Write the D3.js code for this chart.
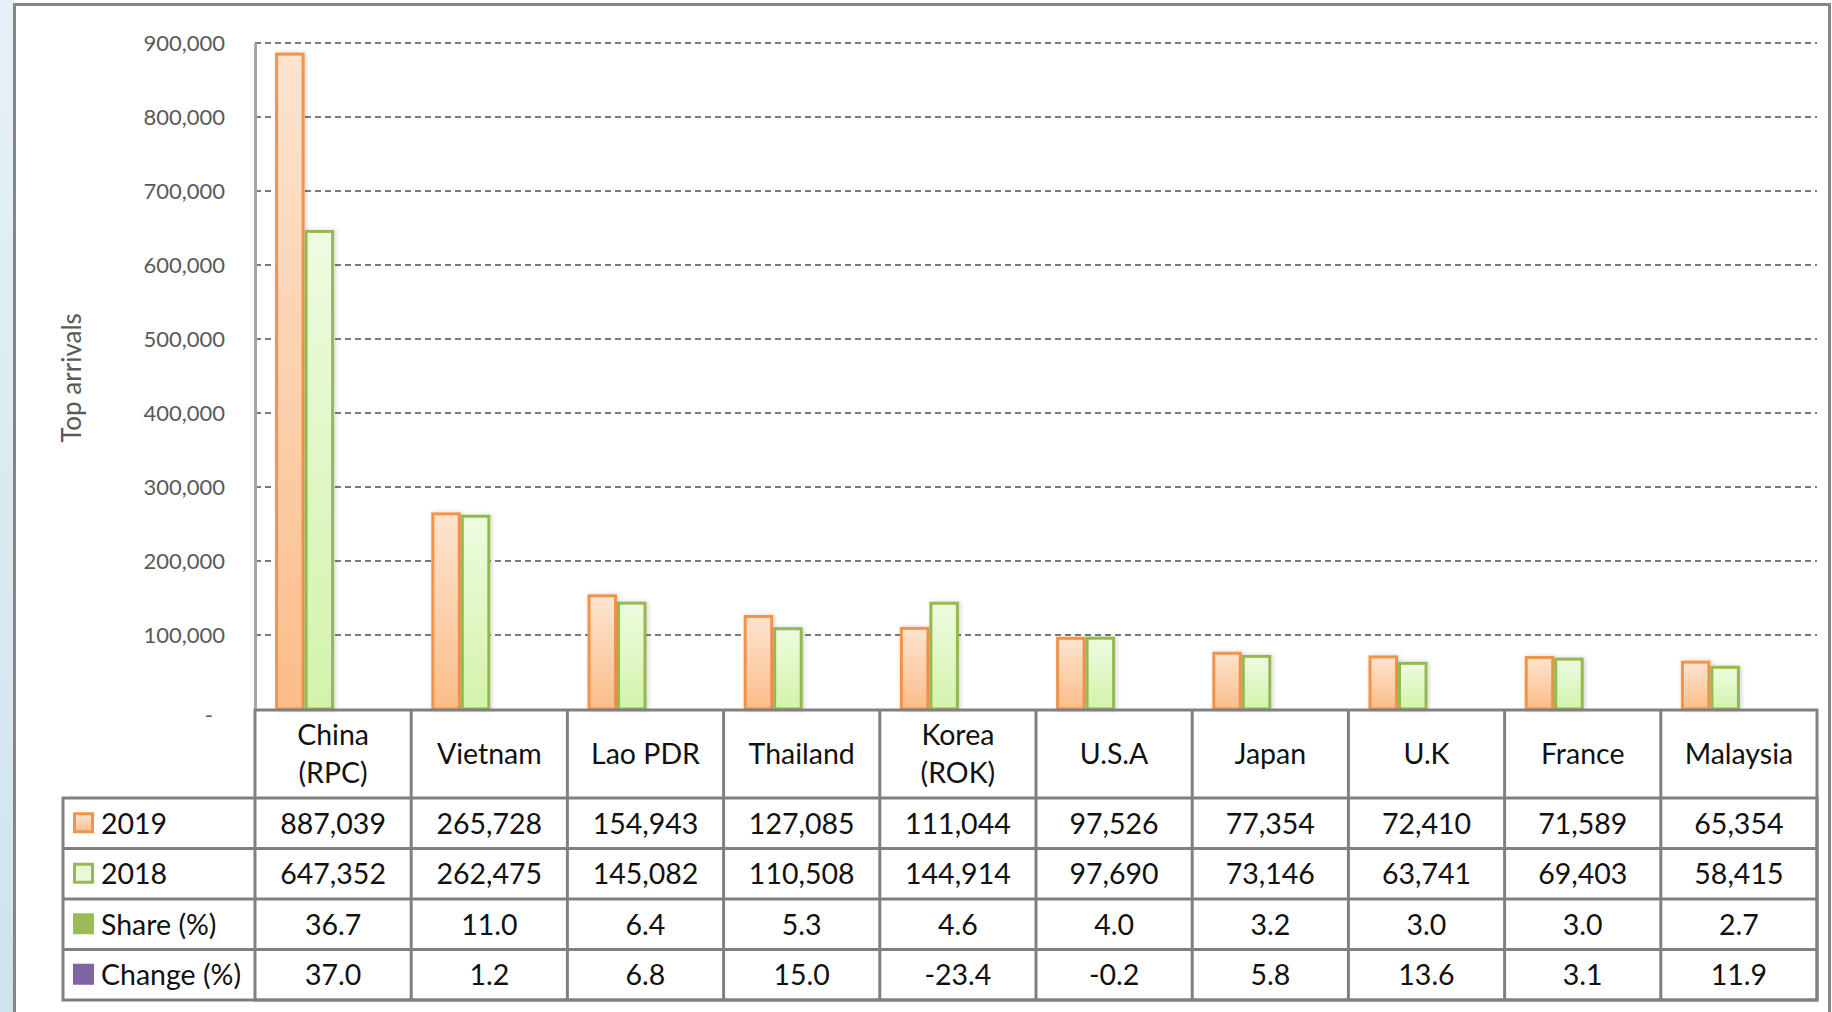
<!DOCTYPE html>
<html><head><meta charset="utf-8">
<script src="https://cdn.jsdelivr.net/npm/d3@7"></script>
<style>
body{margin:0;background:#fff;}
svg{display:block;font-family:Lato,"Open Sans",sans-serif;}
</style>
</head><body>
<svg id="c" width="1832" height="1012"></svg>
<script>
const categories = ["China\n(RPC)", "Vietnam", "Lao PDR", "Thailand", "Korea\n(ROK)", "U.S.A", "Japan", "U.K", "France", "Malaysia"];
const arrivals2019 = [887039, 265728, 154943, 127085, 111044, 97526, 77354, 72410, 71589, 65354];
const arrivals2018 = [647352, 262475, 145082, 110508, 144914, 97690, 73146, 63741, 69403, 58415];
const sharePct = [36.7, 11.0, 6.4, 5.3, 4.6, 4.0, 3.2, 3.0, 3.0, 2.7];
const changePct = [37.0, 1.2, 6.8, 15.0, -23.4, -0.2, 5.8, 13.6, 3.1, 11.9];
const yTicks = [0, 100000, 200000, 300000, 400000, 500000, 600000, 700000, 800000, 900000];
const seriesNames = ["2019", "2018"];
const rowLabels = ["2019", "2018", "Share (%)", "Change (%)"];
const yTitle = "Top arrivals";

const svg = d3.select("#c");
const W = 1832, H = 1012;
const plotL = 255, plotR = 1817, plotT = 43, plotB = 709;
const tableL = 63, headerB = 798, rowH = 50.5;
const gridCol = "#7a7a7a", tableCol = "#808080";
const tFont = 28.5;

const loc = d3.formatLocale({decimal: ".", thousands: ",", grouping: [3], currency: ["", ""], minus: "-"});

// defs
const defs = svg.append("defs");
const gO = defs.append("linearGradient").attr("id","gO").attr("x1",0).attr("y1",0).attr("x2",0).attr("y2",1);
gO.append("stop").attr("offset","0%").attr("stop-color","#fde4d0");
gO.append("stop").attr("offset","100%").attr("stop-color","#fbbd8a");
const gG = defs.append("linearGradient").attr("id","gG").attr("x1",0).attr("y1",0).attr("x2",0).attr("y2",1);
gG.append("stop").attr("offset","0%").attr("stop-color","#eefbe0");
gG.append("stop").attr("offset","100%").attr("stop-color","#d3f3ab");
const gB = defs.append("linearGradient").attr("id","gB").attr("x1",0).attr("y1",0).attr("x2",0).attr("y2",1);
gB.append("stop").attr("offset","0%").attr("stop-color","#e6f1f6");
gB.append("stop").attr("offset","100%").attr("stop-color","#cfe3ec");
const sh = defs.append("filter").attr("id","sh").attr("x","-30%").attr("y","-10%").attr("width","160%").attr("height","120%");
sh.append("feDropShadow").attr("dx",1.5).attr("dy",0).attr("stdDeviation",2).attr("flood-color","#000").attr("flood-opacity",0.18);

// background
svg.append("rect").attr("x",0).attr("y",0).attr("width",W).attr("height",H).attr("fill","#fff");
svg.append("rect").attr("x",0).attr("y",0).attr("width",14).attr("height",H).attr("fill","url(#gB)");
svg.append("rect").attr("x",14.5).attr("y",4.5).attr("width",1815).attr("height",1015)
  .attr("fill","#fff").attr("stroke","#858585").attr("stroke-width",3);

// scales
const y = d3.scaleLinear().domain([0, 900000]).range([plotB, plotT]);
const x = d3.scaleBand().domain(categories).range([plotL, plotR]).paddingInner(0).paddingOuter(0);
const pairW = 59, pairShift = -28.5;
const xs = d3.scaleBand().domain(seriesNames).range([0, pairW]);

// gridlines
svg.append("g").selectAll("line").data(yTicks.filter(d => d > 0)).join("line")
  .attr("x1", plotL).attr("x2", plotR).attr("y1", d => y(d)).attr("y2", d => y(d))
  .attr("stroke", gridCol).attr("stroke-width", 2).attr("stroke-dasharray", "6,4");

// y axis
const yAxis = d3.axisLeft(y).tickValues(yTicks).tickSize(0).tickPadding(30)
  .tickFormat(d => d === 0 ? "-" : loc.format(",")(d));
const ga = svg.append("g").attr("transform", `translate(${plotL},0)`).call(yAxis);
ga.select(".domain").attr("stroke","#a6a6a6").attr("stroke-width",3);
ga.selectAll("text").attr("fill","#595959").attr("font-size",22).attr("font-family","Lato,sans-serif");
ga.selectAll(".tick").filter(d => d === 0).select("text").attr("dx",-12).attr("dy","0.6em");

// y title
svg.append("text").attr("transform","translate(81,378) rotate(-90)")
  .attr("text-anchor","middle").attr("fill","#595959").attr("font-size",26).text(yTitle);

// bars
const rows = categories.map((c, i) => ({c, v: [arrivals2019[i], arrivals2018[i]]}));
const gBars = svg.append("g").selectAll("g").data(rows).join("g")
  .attr("transform", d => `translate(${x(d.c) + x.bandwidth()/2 + pairShift - pairW/2},0)`);
const fills = ["url(#gO)", "url(#gG)"], strokes = ["#f3924a", "#96b94f"];
gBars.selectAll("rect").data(d => d.v.map((v, k) => ({k, v}))).join("rect")
  .attr("x", d => xs(seriesNames[d.k]) + 1.5)
  .attr("width", xs.bandwidth() - 3)
  .attr("y", d => y(d.v) + 1.5)
  .attr("height", d => plotB - y(d.v) - 1.5)
  .attr("fill", d => fills[d.k]).attr("stroke", d => strokes[d.k]).attr("stroke-width", 3)
  .attr("filter","url(#sh)");

// table
const tg = svg.append("g");
const tableB = headerB + rowH * rowLabels.length;
tg.append("rect").attr("x",plotL).attr("y",plotB+1).attr("width",plotR-plotL).attr("height",tableB-plotB-1)
  .attr("fill","none").attr("stroke",tableCol).attr("stroke-width",3);
tg.append("rect").attr("x",tableL).attr("y",headerB).attr("width",plotR-tableL).attr("height",tableB-headerB)
  .attr("fill","none").attr("stroke",tableCol).attr("stroke-width",3);
tg.selectAll("line.v").data(categories.slice(1)).join("line").attr("class","v")
  .attr("x1", d => x(d)).attr("x2", d => x(d)).attr("y1", plotB).attr("y2", tableB)
  .attr("stroke",tableCol).attr("stroke-width",3);
tg.selectAll("line.h").data(rowLabels.slice(1)).join("line").attr("class","h")
  .attr("x1", tableL).attr("x2", plotR)
  .attr("y1", (d,i) => headerB + rowH*(i+1)).attr("y2", (d,i) => headerB + rowH*(i+1))
  .attr("stroke",tableCol).attr("stroke-width",3);

// header labels
const hdr = tg.selectAll("text.hd").data(categories).join("text").attr("class","hd")
  .attr("text-anchor","middle").attr("font-size",tFont).attr("fill","#111");
hdr.each(function(d){
  const lines = d.split("\n");
  const cx = x(d) + x.bandwidth()/2;
  const cy = (plotB + headerB)/2;
  const lh = 38;
  lines.forEach((ln, j) => {
    d3.select(this).append("tspan").attr("x", cx)
      .attr("y", cy + (j - (lines.length-1)/2)*lh).attr("dy","0.36em").text(ln);
  });
});

// row values
const fmtInt = loc.format(",");
const fmt1 = loc.format(".1f");
const rowValues = [arrivals2019.map(fmtInt), arrivals2018.map(fmtInt), sharePct.map(fmt1), changePct.map(fmt1)];
rowValues.forEach((vals, r) => {
  const cy = headerB + rowH*(r+0.5);
  tg.append("g").selectAll("text").data(vals).join("text")
    .attr("x", (d,i) => x(categories[i]) + x.bandwidth()/2).attr("y", cy).attr("dy","0.36em")
    .attr("text-anchor","middle").attr("font-size",tFont).attr("fill","#111").text(d => d);
});

// row labels with legend keys
const keyStyles = [
  {fill:"url(#gO)", stroke:"#f3924a"},
  {fill:"#eaf8da", stroke:"#96b94f"},
  {fill:"#9bbb59", stroke:"none"},
  {fill:"#8064a2", stroke:"none"}
];
rowLabels.forEach((lab, r) => {
  const cy = headerB + rowH*(r+0.5);
  const ks = keyStyles[r];
  if (ks.stroke !== "none") {
    tg.append("rect").attr("x",74.5).attr("y",cy-9.5).attr("width",18).attr("height",18)
      .attr("fill",ks.fill).attr("stroke",ks.stroke).attr("stroke-width",3);
  } else {
    tg.append("rect").attr("x",73).attr("y",cy-11).attr("width",21).attr("height",21).attr("fill",ks.fill);
  }
  tg.append("text").attr("x",101).attr("y",cy).attr("dy","0.36em")
    .attr("font-size",tFont).attr("fill","#111").text(lab);
});
</script>
</body></html>
